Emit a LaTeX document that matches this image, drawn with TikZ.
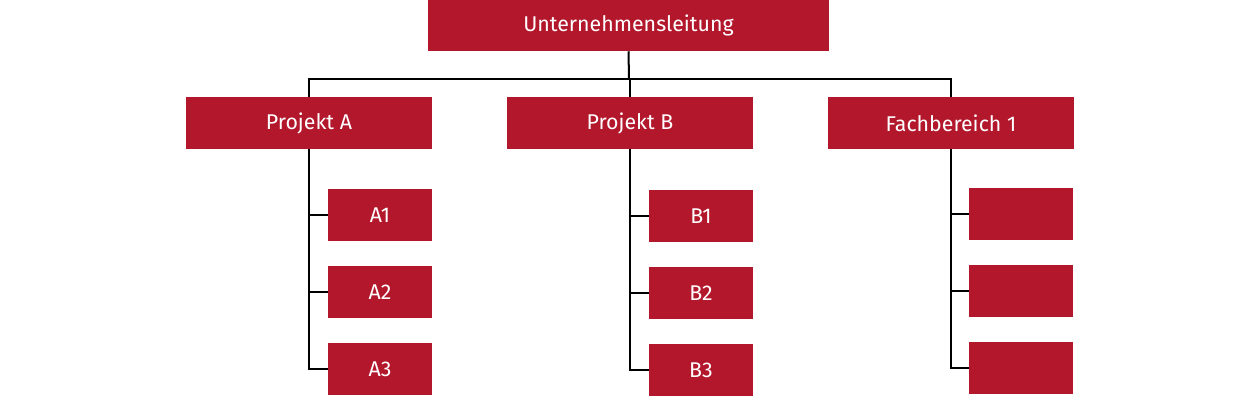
\documentclass[tikz,border=0pt]{standalone}
\usepackage{fontspec}
\setmainfont{Fira Sans}
\definecolor{boxred}{HTML}{B3172C}
\begin{document}
\begin{tikzpicture}[x=0.75pt,y=-0.75pt,
  box/.style={fill=boxred,text=white,inner sep=0pt,font=\fontsize{16}{18}\selectfont},
  conn/.style={line width=1.5pt,black}]
\useasboundingbox (0,0) rectangle (1260,420);
\node[box,minimum width=401*0.75pt,minimum height=51*0.75pt] (top) at (628.5,25.5) {Unternehmensleitung};
\foreach \n/\x/\t in {pa/309/Projekt A,pb/630/Projekt B,pf/951/Fachbereich 1}
  \node[box,minimum width=246*0.75pt,minimum height=52*0.75pt] (\n) at (\x,123) {\t};
\foreach \n/\y/\t in {a1/215/A1,a2/292/A2,a3/369/A3}
  \node[box,minimum width=104*0.75pt,minimum height=52*0.75pt] (\n) at (380,\y) {\t};
\foreach \n/\y/\t in {b1/216/B1,b2/293/B2,b3/370/B3}
  \node[box,minimum width=104*0.75pt,minimum height=52*0.75pt] (\n) at (701,\y) {\t};
\foreach \n/\y in {f1/214,f2/291,f3/368}
  \node[box,minimum width=104*0.75pt,minimum height=52*0.75pt] (\n) at (1021,\y) {};
\coordinate (bus) at (629,79);
\draw[conn] (top.south) -- (bus);
\draw[conn] (bus) -| (pa.north);
\draw[conn] (bus) -| (pb.north);
\draw[conn] (bus) -| (pf.north);
\foreach \p/\c in {pa/a1,pa/a2,pa/a3,pb/b1,pb/b2,pb/b3,pf/f1,pf/f2,pf/f3}
  \draw[conn] (\p.south) |- (\c.west);
\end{tikzpicture}
\end{document}
